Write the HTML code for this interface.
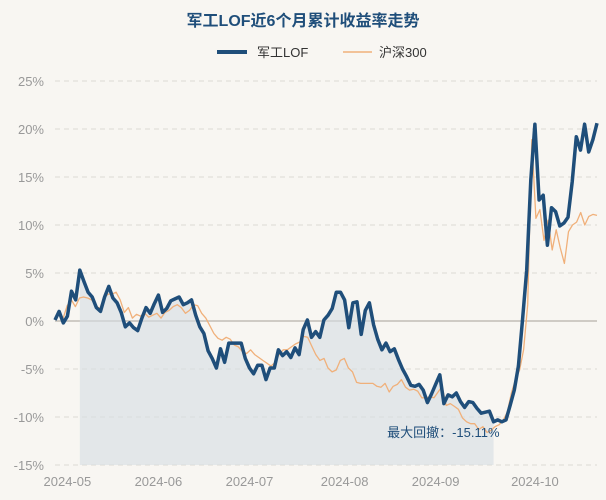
<!DOCTYPE html>
<html><head><meta charset="utf-8">
<style>
html,body{margin:0;padding:0;background:#f8f6f2;}
svg{display:block;font-family:"Liberation Sans","Noto Sans CJK SC",sans-serif;}
</style></head>
<body>
<svg id="chart" width="606" height="500" viewBox="0 0 606 500">
<rect width="606" height="500" fill="#f8f6f2"/>
<text x="303" y="26" text-anchor="middle" font-size="16" font-weight="bold" fill="#1f4e7a">军工LOF近6个月累计收益率走势</text>
<g>
<line x1="217" y1="52" x2="247" y2="52" stroke="#1f4e7a" stroke-width="4"/>
<text x="257" y="57" font-size="13" fill="#333">军工LOF</text>
<line x1="343" y1="52" x2="372" y2="52" stroke="#f0b07a" stroke-width="1.5"/>
<text x="379" y="57" font-size="13" fill="#333">沪深300</text>
</g>
<g id="grid"></g>
<g id="area"></g>
<g id="lines"></g>
<g id="labels"></g>
</svg>
<script>
const yTicks = [25, 20, 15, 10, 5, 0, -5, -10, -15];
const xTickLabels = ["2024-05", "2024-06", "2024-07", "2024-08", "2024-09", "2024-10"];
const xTickIdx = [3, 25, 47, 70, 92, 116];
const fundValues = [0.1,1.0,-0.2,0.5,3.1,2.2,5.3,4.1,3.0,2.5,1.4,1.0,2.5,3.6,2.4,1.9,0.9,-0.6,-0.2,-0.7,-1.0,0.3,1.4,0.8,1.8,2.7,0.9,1.3,2.1,2.3,2.5,1.7,1.9,2.2,0.6,-0.6,-1.3,-3.1,-3.9,-4.9,-2.9,-4.3,-2.3,-2.3,-2.3,-2.3,-3.9,-4.9,-5.5,-4.6,-4.6,-6.1,-4.9,-4.9,-3.0,-3.6,-3.2,-3.8,-2.8,-3.5,-0.9,0.1,-1.7,-1.1,-1.7,0.1,0.6,1.3,3.0,3.0,2.2,-0.7,1.9,2.0,-1.4,1.1,1.9,-0.4,-1.9,-3.0,-2.3,-3.2,-2.9,-4.0,-5.0,-5.8,-6.7,-6.8,-6.6,-7.2,-8.5,-7.6,-6.6,-5.6,-8.6,-7.7,-7.9,-7.5,-8.4,-9.0,-8.4,-8.5,-9.1,-9.6,-9.5,-9.4,-10.5,-10.3,-10.5,-10.3,-8.8,-7.2,-4.7,0.1,5.3,14.7,20.5,12.6,13.1,7.9,11.8,11.4,9.9,10.2,10.8,14.5,19.2,17.8,20.5,17.6,18.9,20.6];
const indexValues = [0.1,0.9,0.3,1.6,2.2,1.5,2.4,2.5,2.4,2.2,1.6,1.3,2.4,2.8,2.8,3.0,2.2,0.9,1.4,0.3,0.7,0.5,0.8,0.4,0.6,0.8,0.3,0.9,1.1,1.5,1.7,1.4,0.8,1.1,1.7,1.6,0.8,0.3,-0.5,-1.3,-1.8,-2.0,-1.7,-1.9,-2.5,-2.7,-3.2,-3.4,-3.0,-3.5,-3.8,-4.1,-4.4,-4.7,-4.3,-3.5,-3.0,-3.0,-2.7,-2.4,-2.2,-1.6,-1.7,-2.6,-3.5,-4.1,-3.9,-4.9,-5.3,-5.1,-4.1,-3.9,-4.9,-5.3,-6.4,-6.5,-6.5,-6.5,-6.5,-6.8,-6.9,-6.5,-7.4,-6.8,-6.6,-6.1,-6.9,-7.2,-7.1,-7.3,-8.0,-8.0,-7.9,-8.0,-7.4,-6.8,-8.8,-8.6,-8.9,-9.2,-10.1,-10.5,-10.7,-10.7,-11.3,-11.0,-11.6,-11.4,-11.0,-10.8,-10.3,-9.5,-7.5,-6.1,-5.1,-3.0,1.7,18.9,10.7,11.6,8.4,10.5,7.4,9.5,7.6,6.0,9.3,10.0,10.3,11.3,10.0,10.9,11.1,11.0];
const drawdownText = "最大回撤：-15.11%";

const NS = "http://www.w3.org/2000/svg";
const X0 = 55, X1 = 597, Y_TOP = 81, Y_BOT = 465;
function yScale(v){ return Y_TOP + (25 - v) / 40 * (Y_BOT - Y_TOP); }
function xScale(i, n){ return X0 + i * (X1 - X0) / (n - 1); }
function mk(tag, attrs, parent){ const e = document.createElementNS(NS, tag); for (const k in attrs) e.setAttribute(k, attrs[k]); parent.appendChild(e); return e; }

const grid = document.getElementById('grid');
yTicks.forEach(t => {
  const y = yScale(t);
  const ln = mk('line', {x1: X0, x2: X1, y1: y, y2: y, stroke: t === 0 ? '#cfcbc5' : '#dcd9d4', 'stroke-width': t === 0 ? 2 : 1, 'stroke-dasharray': t === 0 ? 'none' : '5,4'}, grid);
  
  
  const tx = mk('text', {x: 44, y: y + 5, 'text-anchor': 'end', 'font-size': 13, fill: '#999'}, grid);
  tx.textContent = t + '%';
  
  
});
xTickLabels.forEach((lab, k) => {
  const x = xScale(xTickIdx[k], fundValues.length);
  const tx = mk('text', {x: x, y: 486, 'text-anchor': 'middle', 'font-size': 13, fill: '#999'}, grid);
  tx.textContent = lab;
  
  
});

const nF = fundValues.length;
let trough = 0, peak = 0, best = 0;
{ let pk = 0; for (let i = 0; i < nF; i++){ if (fundValues[i] > fundValues[pk]) pk = i; const dd = fundValues[i] - fundValues[pk]; if (dd < best){ best = dd; trough = i; peak = pk; } } }
let d = `M${xScale(peak,nF)},${Y_BOT}`;
for (let i = peak; i <= trough; i++) d += ` L${xScale(i,nF)},${yScale(fundValues[i])}`;
d += ` L${xScale(trough,nF)},${Y_BOT} Z`;
const area = mk('path', {d: d, fill: '#d5dde3', 'fill-opacity': 0.6}, document.getElementById('area'));



function linePath(vals){ const n = vals.length; return vals.map((v,i)=> (i? 'L':'M') + xScale(i,n).toFixed(1) + ',' + yScale(v).toFixed(1)).join(' '); }
const lines = document.getElementById('lines');
const l2 = mk('path', {d: linePath(indexValues), fill: 'none', stroke: '#f0b07a', 'stroke-width': 1.3, 'stroke-linejoin': 'round'}, lines);


const l1 = mk('path', {d: linePath(fundValues), fill: 'none', stroke: '#1f4e7a', 'stroke-width': 3.5, 'stroke-linejoin': 'round'}, lines);



const dl = mk('text', {x: xScale(trough,nF) + 6, y: 437, 'text-anchor': 'end', 'font-size': 13, fill: '#1f4e7a'}, document.getElementById('labels'));
dl.textContent = drawdownText;


</script>
</body></html>
